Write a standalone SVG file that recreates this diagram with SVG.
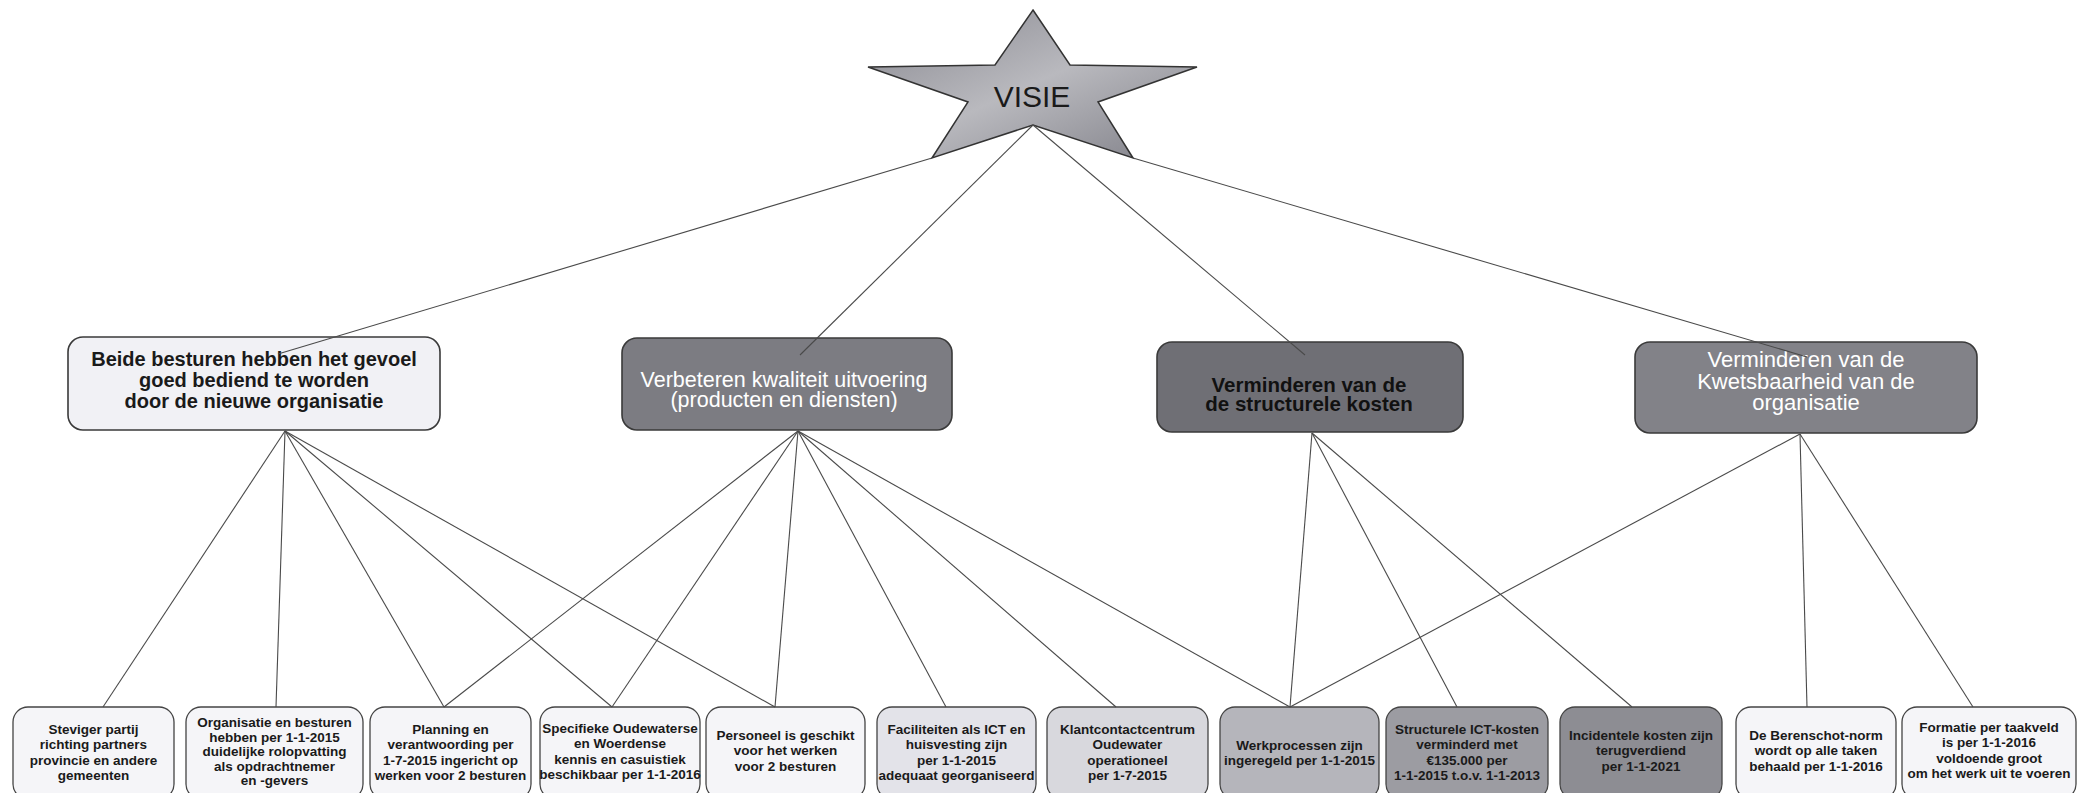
<svg xmlns="http://www.w3.org/2000/svg" width="2087" height="793" viewBox="0 0 2087 793">
<style>
text{font-family:"Liberation Sans",Arial,sans-serif;text-anchor:middle}
.b{font-weight:bold;font-size:13.5px;fill:#1a1a1a}
.mb{stroke:#3a3a3a;stroke-width:1.6}
.bb{stroke:#444;stroke-width:1.3}
.c line{stroke:#4a4a4a;stroke-width:1.1;fill:none}
.l1{fill:#f5f5f8}
</style>
<defs>
<linearGradient id="sg" x1="0" y1="0" x2="1" y2="1">
<stop offset="0" stop-color="#86868e"/>
<stop offset="0.5" stop-color="#b9b9be"/>
<stop offset="1" stop-color="#7f7f87"/>
</linearGradient>
</defs>
<rect width="2087" height="793" fill="#fff"/>
<g id="visie">
<polygon points="1033,10 1070,65 1197,67 1098,102 1133,158 1033,125 932,158 968,102 868,67 995,65" fill="url(#sg)" stroke="#333" stroke-width="1.5"/>
<text x="1032" y="107" font-size="30" fill="#1a1a1a">VISIE</text>
</g>
<g id="doel1">
<rect class="mb" x="68" y="337" width="372" height="93" rx="15" fill="#f1f1f5"/>
<text font-weight="bold" font-size="20" fill="#1a1a1a"><tspan x="254" y="366">Beide besturen hebben het gevoel</tspan><tspan x="254" y="387">goed bediend te worden</tspan><tspan x="254" y="408">door de nieuwe organisatie</tspan></text>
</g>
<g id="doel2">
<rect class="mb" x="622" y="338" width="330" height="92" rx="15" fill="#7c7c82"/>
<text font-size="21.5" fill="#fff"><tspan x="784" y="387">Verbeteren kwaliteit uitvoering</tspan><tspan x="784" y="407">(producten en diensten)</tspan></text>
</g>
<g id="doel3">
<rect class="mb" x="1157" y="342" width="306" height="90" rx="15" fill="#6f6f75"/>
<text font-weight="bold" font-size="20.5" fill="#111"><tspan x="1309" y="392">Verminderen van de</tspan><tspan x="1309" y="411">de structurele kosten</tspan></text>
</g>
<g id="doel4">
<rect class="mb" x="1635" y="342" width="342" height="91" rx="15" fill="#828288"/>
<text font-size="22" fill="#fff"><tspan x="1806" y="367">Verminderen  van de</tspan><tspan x="1806" y="389">Kwetsbaarheid  van de</tspan><tspan x="1806" y="410">organisatie</tspan></text>
</g>
<g id="r1"><rect class="bb l1" x="13" y="707" width="161" height="92" rx="15"/>
<text class="b"><tspan x="93.5" y="734">Steviger partij</tspan><tspan x="93.5" y="749.3">richting partners</tspan><tspan x="93.5" y="764.6">provincie en andere</tspan><tspan x="93.5" y="779.9">gemeenten</tspan></text></g>
<g id="r2"><rect class="bb l1" x="186" y="707" width="177" height="92" rx="15"/>
<text class="b"><tspan x="274.5" y="727">Organisatie en besturen</tspan><tspan x="274.5" y="741.5">hebben per 1-1-2015</tspan><tspan x="274.5" y="756">duidelijke rolopvatting</tspan><tspan x="274.5" y="770.5">als opdrachtnemer</tspan><tspan x="274.5" y="785">en -gevers</tspan></text></g>
<g id="r3"><rect class="bb l1" x="370" y="707" width="161" height="92" rx="15"/>
<text class="b"><tspan x="450.5" y="734">Planning en</tspan><tspan x="450.5" y="749.3">verantwoording per</tspan><tspan x="450.5" y="764.6">1-7-2015 ingericht op</tspan><tspan x="450.5" y="779.9">werken voor 2 besturen</tspan></text></g>
<g id="r4"><rect class="bb l1" x="540" y="707" width="160" height="92" rx="15"/>
<text class="b"><tspan x="620" y="733">Specifieke Oudewaterse</tspan><tspan x="620" y="748.3">en Woerdense</tspan><tspan x="620" y="763.6">kennis en casuistiek</tspan><tspan x="620" y="778.9">beschikbaar per 1-1-2016</tspan></text></g>
<g id="r5"><rect class="bb l1" x="706" y="707" width="159" height="92" rx="15"/>
<text class="b"><tspan x="785.5" y="740">Personeel is geschikt</tspan><tspan x="785.5" y="755.3">voor het werken</tspan><tspan x="785.5" y="770.6">voor 2 besturen</tspan></text></g>
<g id="r6"><rect class="bb" x="877" y="707" width="159" height="92" rx="15" fill="#e3e3e9"/>
<text class="b"><tspan x="956.5" y="734">Faciliteiten als ICT en</tspan><tspan x="956.5" y="749.3">huisvesting zijn</tspan><tspan x="956.5" y="764.6">per 1-1-2015</tspan><tspan x="956.5" y="779.9">adequaat georganiseerd</tspan></text></g>
<g id="r7"><rect class="bb" x="1047" y="707" width="161" height="92" rx="15" fill="#d8d8dd"/>
<text class="b"><tspan x="1127.5" y="734">Klantcontactcentrum</tspan><tspan x="1127.5" y="749.3">Oudewater</tspan><tspan x="1127.5" y="764.6">operationeel</tspan><tspan x="1127.5" y="779.9">per 1-7-2015</tspan></text></g>
<g id="r8"><rect class="bb" x="1220" y="707" width="159" height="92" rx="15" fill="#b5b5bb"/>
<text class="b"><tspan x="1299.5" y="750">Werkprocessen zijn</tspan><tspan x="1299.5" y="765.3">ingeregeld per 1-1-2015</tspan></text></g>
<g id="r9"><rect class="bb" x="1386" y="707" width="162" height="92" rx="15" fill="#9c9ca2"/>
<text class="b"><tspan x="1467" y="734">Structurele ICT-kosten</tspan><tspan x="1467" y="749.3">verminderd met</tspan><tspan x="1467" y="764.6">€135.000 per</tspan><tspan x="1467" y="779.9">1-1-2015 t.o.v. 1-1-2013</tspan></text></g>
<g id="r10"><rect class="bb" x="1560" y="707" width="162" height="92" rx="15" fill="#8d8d93"/>
<text class="b"><tspan x="1641" y="740">Incidentele kosten zijn</tspan><tspan x="1641" y="755.3">terugverdiend</tspan><tspan x="1641" y="770.6">per 1-1-2021</tspan></text></g>
<g id="r11"><rect class="bb l1" x="1736" y="707" width="160" height="92" rx="15"/>
<text class="b"><tspan x="1816" y="740">De Berenschot-norm</tspan><tspan x="1816" y="755.3">wordt op alle taken</tspan><tspan x="1816" y="770.6">behaald per 1-1-2016</tspan></text></g>
<g id="r12"><rect class="bb l1" x="1902" y="707" width="174" height="92" rx="15"/>
<text class="b"><tspan x="1989" y="732">Formatie per taakveld</tspan><tspan x="1989" y="747.3">is per 1-1-2016</tspan><tspan x="1989" y="762.6">voldoende groot</tspan><tspan x="1989" y="777.9">om het werk uit te voeren</tspan></text></g>
<g id="connectors" class="c">
<line x1="932" y1="158" x2="278" y2="354"/>
<line x1="1033" y1="125" x2="800" y2="355"/>
<line x1="1033" y1="125" x2="1305" y2="355"/>
<line x1="1133" y1="158" x2="1807" y2="357"/>
<line x1="285" y1="431" x2="103" y2="707"/>
<line x1="285" y1="431" x2="276" y2="707"/>
<line x1="285" y1="431" x2="444" y2="707"/>
<line x1="285" y1="431" x2="612" y2="707"/>
<line x1="285" y1="431" x2="775" y2="707"/>
<line x1="798" y1="431" x2="444" y2="707"/>
<line x1="798" y1="431" x2="612" y2="707"/>
<line x1="798" y1="431" x2="775" y2="707"/>
<line x1="798" y1="431" x2="946" y2="707"/>
<line x1="798" y1="431" x2="1116" y2="707"/>
<line x1="798" y1="431" x2="1290" y2="707"/>
<line x1="1312" y1="433" x2="1290" y2="707"/>
<line x1="1312" y1="433" x2="1457" y2="707"/>
<line x1="1312" y1="433" x2="1632" y2="707"/>
<line x1="1800" y1="434" x2="1290" y2="707"/>
<line x1="1800" y1="434" x2="1807" y2="707"/>
<line x1="1800" y1="434" x2="1973" y2="707"/>
</g>
</svg>
